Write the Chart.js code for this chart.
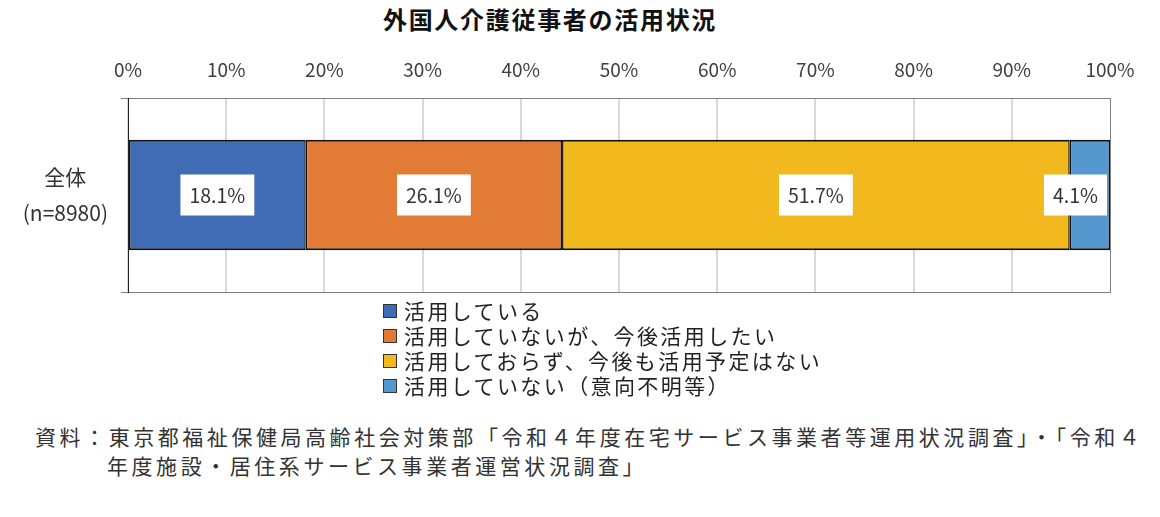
<!DOCTYPE html>
<html lang="ja">
<head>
<meta charset="utf-8">
<script src="https://cdn.jsdelivr.net/npm/chart.js@4"></script>
<style>
  body { margin: 0; background: #fff; font-family: "Noto Sans CJK JP", "Noto Sans", sans-serif; color: #333; }
  #wrap { position: relative; width: 1160px; height: 517px; overflow: hidden; }
  #title { position: absolute; left: 0; top: 3px; width: 1100px; text-align: center; font-size: 24px; font-weight: bold; letter-spacing: 1.7px; color: #111; line-height: 32px; }
  #chart { position: absolute; left: 0; top: 0; }
  #legend { position: absolute; left: 383px; top: 298px; font-size: 21px; letter-spacing: 2.4px; line-height: 25px; color: #222; }
  #legend .row { display: flex; align-items: center; white-space: nowrap; }
  #legend .sw { width: 12px; height: 12px; border: 1px solid #333; margin-right: 7px; }
  #note { position: absolute; left: 35px; top: 422px; font-size: 21px; letter-spacing: 3.55px; line-height: 29px; color: #333; white-space: nowrap; padding-left: 72px; text-indent: -72px; }
</style>
</head>
<body>
<div id="wrap">
  <div id="title"></div>
  <canvas id="chart" width="1160" height="300"></canvas>
  <div id="legend"></div>
  <div id="note"></div>
</div>
<script>
// data
const chartTitle = '外国人介護従事者の活用状況';
const categories = [['全体', '(n=8980)']];
const seriesNames = [
  '活用している',
  '活用していないが、今後活用したい',
  '活用しておらず、今後も活用予定はない',
  '活用していない（意向不明等）',
];
const seriesValues = [[18.1], [26.1], [51.7], [4.1]];
const seriesColors = ['#3f6cb4', '#e17b35', '#f2b91f', '#5597cf'];
const xTicks = [0, 10, 20, 30, 40, 50, 60, 70, 80, 90, 100];
const noteLines = [
  '資料：東京都福祉保健局高齢社会対策部「令和４年度在宅サービス事業者等運用状況調査」・「令和４',
  '年度施設・居住系サービス事業者運営状況調査」',
];

const FONT = '"Noto Sans CJK JP", "Noto Sans", sans-serif';

document.getElementById('title').textContent = chartTitle;
document.getElementById('legend').innerHTML = seriesNames.map((n, i) =>
  `<div class="row"><span class="sw" style="background:${seriesColors[i]}"></span>${n}</div>`).join('');
document.getElementById('note').innerHTML = noteLines.join('<br>');

// white boxed value labels
const boxLabels = {
  id: 'boxLabels',
  afterDatasetsDraw(chart) {
    const { ctx, chartArea } = chart;
    ctx.save();
    ctx.font = '19.5px ' + FONT;
    ctx.textAlign = 'center';
    ctx.textBaseline = 'middle';
    chart.data.datasets.forEach((ds, i) => {
      chart.getDatasetMeta(i).data.forEach((bar, j) => {
        const text = ds.data[j].toFixed(1) + '%';
        const w = ctx.measureText(text).width + 18;
        const h = 41;
        let cx = (bar.x + bar.base) / 2;
        if (cx + w / 2 > chartArea.right - 3) cx = chartArea.right - 3 - w / 2;
        ctx.fillStyle = '#fff';
        ctx.fillRect(cx - w / 2, bar.y - h / 2, w, h);
        ctx.fillStyle = '#333';
        ctx.fillText(text, cx, bar.y + 1);
      });
    });
    ctx.restore();
  }
};

new Chart(document.getElementById('chart'), {
  type: 'bar',
  data: {
    labels: categories,
    datasets: seriesNames.map((n, i) => ({
      label: n,
      data: seriesValues[i],
      backgroundColor: seriesColors[i],
      borderColor: '#111',
      borderWidth: { top: 2, bottom: 2, left: 1.5, right: 1.5 },
      borderSkipped: false,
      barPercentage: 0.57,
      categoryPercentage: 1,
    })),
  },
  options: {
    indexAxis: 'y',
    responsive: false,
    animation: false,
    layout: { padding: { left: 0, right: 50, top: 50, bottom: 8 } },
    plugins: { legend: { display: false }, title: { display: false }, tooltip: { enabled: false } },
    scales: {
      x: {
        position: 'top',
        stacked: true,
        min: 0,
        max: 100,
        afterFit: s => { s.height = 48; },
        afterBuildTicks: s => { s.ticks = xTicks.map(v => ({ value: v })); },
        ticks: {
          padding: 17,
          color: '#404040',
          font: { family: FONT, size: 19 },
          callback: v => v + '%',
          maxRotation: 0,
        },
        grid: {
          drawTicks: false,
          color: c => c.tick && c.tick.value === 100 ? '#808080' : '#d9d9d9',
          lineWidth: c => c.tick && c.tick.value === 100 ? 1 : 2,
        },
        border: { display: true, color: '#808080', width: 1 },
      },
      x2: {
        position: 'bottom',
        axis: 'x',
        min: 0,
        max: 100,
        afterFit: s => { s.height = 0; },
        ticks: { display: false },
        grid: { display: false, drawTicks: false },
        border: { display: true, color: '#808080', width: 1 },
      },
      y: {
        stacked: true,
        afterFit: s => { s.width = 128; s.paddingTop = 0; s.paddingBottom = 0; },
        ticks: {
          crossAlign: 'center',
          padding: 13,
          color: '#333',
          font: { family: FONT, size: 21, lineHeight: 1.72 },
        },
        grid: { color: '#808080', lineWidth: 1, tickLength: 7 },
        border: { color: '#222', width: 1 },
      },
    },
  },
  plugins: [boxLabels],
});
</script>
</body>
</html>
